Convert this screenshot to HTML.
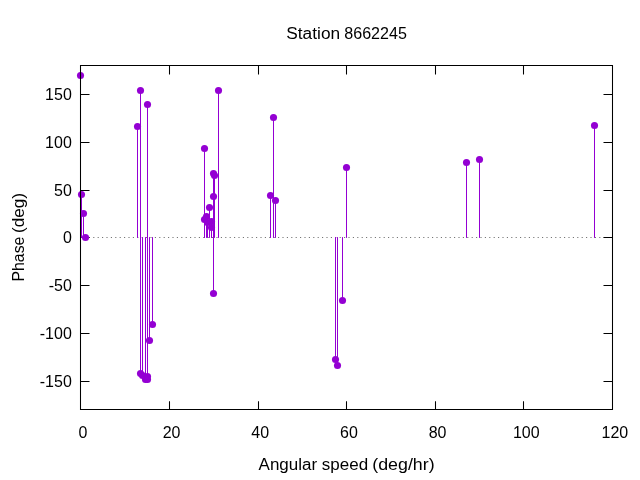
<!DOCTYPE html>
<html><head><meta charset="utf-8"><style>
html,body{margin:0;padding:0;background:#fff;width:640px;height:480px;overflow:hidden}
svg{display:block;will-change:transform}
text{font-family:"Liberation Sans",sans-serif;font-size:16px;fill:#000}
.n{font-size:16.8px}
</style></head><body>
<svg width="640" height="480" viewBox="0 0 640 480">
<rect width="640" height="480" fill="#fff"/>
<path d="M80.5 237.5H612.5" stroke="#707070" stroke-width="1.1" stroke-dasharray="1.1 3.3" stroke-dashoffset="0.45" fill="none"/>
<path d="M169.5 409.5V401.2M169.5 65.5V74.5M258.5 409.5V401.2M258.5 65.5V74.5M346.5 409.5V401.2M346.5 65.5V74.5M435.5 409.5V401.2M435.5 65.5V74.5M523.5 409.5V401.2M523.5 65.5V74.5M80.5 94.5H89.5M612.5 94.5H603.5M80.5 142.5H89.5M612.5 142.5H603.5M80.5 190.5H89.5M612.5 190.5H603.5M80.5 237.5H89.5M612.5 237.5H603.5M80.5 285.5H89.5M612.5 285.5H603.5M80.5 333.5H89.5M612.5 333.5H603.5M80.5 381.5H89.5M612.5 381.5H603.5" stroke="#000" stroke-width="1.05" fill="none"/>
<path d="M80.5 237.5V75.5M81.5 237.5V194.5M83.5 237.5V213.5M85.5 237.5V237.5M137.5 237.5V126.5M140.5 237.5V90.5M140.5 237.5V373.5M142.5 237.5V375.5M145.5 237.5V379.5M147.5 237.5V379.5M147.5 237.5V376.5M147.5 237.5V104.5M149.5 237.5V340.5M152.5 237.5V324.5M204.5 237.5V148.5M204.5 237.5V219.5M206.5 237.5V216.5M207.5 237.5V222.5M209.5 237.5V207.5M211.5 237.5V227.5M211.5 237.5V221.5M213.5 237.5V173.5M214.5 237.5V175.5M213.5 237.5V196.5M213.5 237.5V293.5M218.5 237.5V90.5M270.5 237.5V195.5M273.5 237.5V117.5M275.5 237.5V200.5M335.5 237.5V359.5M337.5 237.5V365.5M342.5 237.5V300.5M346.5 237.5V167.5M466.5 237.5V162.5M479.5 237.5V159.5M594.5 237.5V125.5" stroke="#9400d3" stroke-width="1" stroke-linecap="round" fill="none"/>
<g fill="#9400d3"><circle cx="80.5" cy="75.5" r="3.55"/><circle cx="81.5" cy="194.5" r="3.55"/><circle cx="83.5" cy="213.5" r="3.55"/><circle cx="85.5" cy="237.5" r="3.55"/><circle cx="137.5" cy="126.5" r="3.55"/><circle cx="140.5" cy="90.5" r="3.55"/><circle cx="140.5" cy="373.5" r="3.55"/><circle cx="142.5" cy="375.5" r="3.55"/><circle cx="145.5" cy="379.5" r="3.55"/><circle cx="147.5" cy="379.5" r="3.55"/><circle cx="147.5" cy="376.5" r="3.55"/><circle cx="147.5" cy="104.5" r="3.55"/><circle cx="149.5" cy="340.5" r="3.55"/><circle cx="152.5" cy="324.5" r="3.55"/><circle cx="204.5" cy="148.5" r="3.55"/><circle cx="204.5" cy="219.5" r="3.55"/><circle cx="206.5" cy="216.5" r="3.55"/><circle cx="207.5" cy="222.5" r="3.55"/><circle cx="209.5" cy="207.5" r="3.55"/><circle cx="211.5" cy="227.5" r="3.55"/><circle cx="211.5" cy="221.5" r="3.55"/><circle cx="213.5" cy="173.5" r="3.55"/><circle cx="214.5" cy="175.5" r="3.55"/><circle cx="213.5" cy="196.5" r="3.55"/><circle cx="213.5" cy="293.5" r="3.55"/><circle cx="218.5" cy="90.5" r="3.55"/><circle cx="270.5" cy="195.5" r="3.55"/><circle cx="273.5" cy="117.5" r="3.55"/><circle cx="275.5" cy="200.5" r="3.55"/><circle cx="335.5" cy="359.5" r="3.55"/><circle cx="337.5" cy="365.5" r="3.55"/><circle cx="342.5" cy="300.5" r="3.55"/><circle cx="346.5" cy="167.5" r="3.55"/><circle cx="466.5" cy="162.5" r="3.55"/><circle cx="479.5" cy="159.5" r="3.55"/><circle cx="594.5" cy="125.5" r="3.55"/></g>
<path d="M80.5 65.5H612.5V409.5H80.5Z" stroke="#000" stroke-width="1.05" fill="none"/>
<g><text class="n" x="82.9" y="437.9" text-anchor="middle" textLength="8.898" lengthAdjust="spacingAndGlyphs">0</text><text class="n" x="171.57" y="437.9" text-anchor="middle" textLength="17.797" lengthAdjust="spacingAndGlyphs">20</text><text class="n" x="260.23" y="437.9" text-anchor="middle" textLength="17.797" lengthAdjust="spacingAndGlyphs">40</text><text class="n" x="348.9" y="437.9" text-anchor="middle" textLength="17.797" lengthAdjust="spacingAndGlyphs">60</text><text class="n" x="437.57" y="437.9" text-anchor="middle" textLength="17.797" lengthAdjust="spacingAndGlyphs">80</text><text class="n" x="526.24" y="437.9" text-anchor="middle" textLength="26.695" lengthAdjust="spacingAndGlyphs">100</text><text class="n" x="614.9" y="437.9" text-anchor="middle" textLength="26.695" lengthAdjust="spacingAndGlyphs">120</text></g>
<g><text class="n" x="71.8" y="100.24" text-anchor="end" textLength="26.695" lengthAdjust="spacingAndGlyphs">150</text><text class="n" x="71.8" y="147.98" text-anchor="end" textLength="26.695" lengthAdjust="spacingAndGlyphs">100</text><text class="n" x="71.8" y="195.71" text-anchor="end" textLength="17.797" lengthAdjust="spacingAndGlyphs">50</text><text class="n" x="71.8" y="243.45" text-anchor="end" textLength="8.898" lengthAdjust="spacingAndGlyphs">0</text><text class="n" x="71.8" y="291.19" text-anchor="end" textLength="23.125" lengthAdjust="spacingAndGlyphs">-50</text><text class="n" x="71.8" y="338.92" text-anchor="end" textLength="32.023" lengthAdjust="spacingAndGlyphs">-100</text><text class="n" x="71.8" y="386.65" text-anchor="end" textLength="32.023" lengthAdjust="spacingAndGlyphs">-150</text></g>
<text x="286.3" y="38.8" textLength="53.8" lengthAdjust="spacingAndGlyphs">Station</text><text x="344.3" y="38.8" textLength="62.6" lengthAdjust="spacingAndGlyphs">8662245</text>
<text x="258.6" y="469.7" textLength="109.5" lengthAdjust="spacingAndGlyphs">Angular speed</text><text x="372.3" y="469.7" textLength="62.3" lengthAdjust="spacingAndGlyphs">(deg/hr)</text>
<text transform="translate(23.75 281.6) rotate(-90)" x="0" y="0" textLength="45" lengthAdjust="spacingAndGlyphs">Phase</text><text transform="translate(23.75 233) rotate(-90)" x="0" y="0" textLength="40" lengthAdjust="spacingAndGlyphs">(deg)</text>
</svg>
</body></html>
